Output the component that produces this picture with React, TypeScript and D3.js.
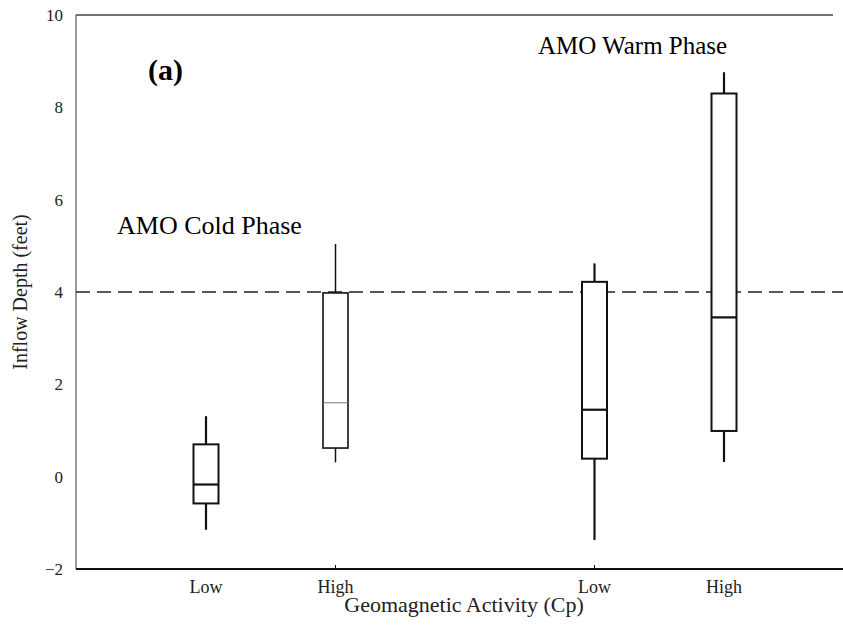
import React, { useEffect, useRef } from 'react'
import * as d3 from 'd3'

// box plot: inflow depth vs geomagnetic activity, by AMO phase
const groups = ['Low', 'High', 'Low', 'High']
const slots = [1, 2, 4, 5]
const whiskerLow = [-1.15, 0.31, -1.37, 0.32]
const q1 = [-0.58, 0.62, 0.39, 0.99]
const median = [-0.17, 1.6, 1.45, 3.45]
const q3 = [0.7, 3.98, 4.22, 8.3]
const whiskerHigh = [1.31, 5.04, 4.62, 8.76]
const yTicks = [-2, 0, 2, 4, 6, 8, 10]
const threshold = 4

const W = 843
const H = 626
const FONT = '"Liberation Serif", "DejaVu Serif", serif'

const App = () => {
  const ref = useRef<SVGSVGElement>(null)

  useEffect(() => {
    const svg = d3.select(ref.current)
    svg.selectAll('*').remove()

    const x = d3.scaleLinear().domain([1, 5]).range([206, 724])
    const y = d3.scaleLinear().domain([-2, 10]).range([569, 15])
    const left = 76
    const right = 833
    const boxW = 25

    // frame
    svg.append('line')
      .attr('x1', left).attr('x2', left)
      .attr('y1', y(10)).attr('y2', y(-2))
      .attr('stroke', '#777').attr('stroke-width', 1.5)
    svg.append('line')
      .attr('x1', left).attr('x2', right)
      .attr('y1', y(10)).attr('y2', y(10))
      .attr('stroke', '#444').attr('stroke-width', 1.5)
    svg.append('line')
      .attr('x1', left).attr('x2', W)
      .attr('y1', y(-2)).attr('y2', y(-2))
      .attr('stroke', '#111').attr('stroke-width', 2)

    // y tick labels
    svg.append('g')
      .selectAll('text')
      .data(yTicks)
      .join('text')
      .attr('x', 63)
      .attr('y', d => y(d) + 6)
      .attr('text-anchor', 'end')
      .attr('font-family', FONT)
      .attr('font-size', 17)
      .attr('fill', '#222')
      .text(d => d < 0 ? `\u2212${-d}` : `${d}`)

    // x ticks (only the middle two are drawn in the original)
    svg.append('g')
      .selectAll('line')
      .data([2, 4])
      .join('line')
      .attr('x1', d => x(d)).attr('x2', d => x(d))
      .attr('y1', y(-2)).attr('y2', y(-2) - 4)
      .attr('stroke', '#111').attr('stroke-width', 1)

    svg.append('g')
      .selectAll('text')
      .data(groups)
      .join('text')
      .attr('x', (d, i) => x(slots[i]))
      .attr('y', 593)
      .attr('text-anchor', 'middle')
      .attr('font-family', FONT)
      .attr('font-size', 18)
      .attr('fill', '#222')
      .text(d => d)

    // threshold
    svg.append('line')
      .attr('x1', left).attr('x2', W)
      .attr('y1', y(threshold)).attr('y2', y(threshold))
      .attr('stroke', '#222').attr('stroke-width', 1.5)
      .attr('stroke-dasharray', '14,7')

    // boxes
    const heavy = [true, false, true, true]
    const box = svg.append('g')
      .selectAll('g')
      .data(groups.map((g, i) => i))
      .join('g')
      .attr('fill', 'none')
      .attr('stroke', '#111')

    box.append('line')
      .attr('x1', i => x(slots[i])).attr('x2', i => x(slots[i]))
      .attr('y1', i => y(whiskerHigh[i])).attr('y2', i => y(q3[i]))
      .attr('stroke-width', i => heavy[i] ? 2.2 : 1.5)
    box.append('line')
      .attr('x1', i => x(slots[i])).attr('x2', i => x(slots[i]))
      .attr('y1', i => y(q1[i])).attr('y2', i => y(whiskerLow[i]))
      .attr('stroke-width', i => heavy[i] ? 2.2 : 1.5)
    box.append('rect')
      .attr('x', i => x(slots[i]) - boxW / 2)
      .attr('width', boxW)
      .attr('y', i => y(q3[i]))
      .attr('height', i => y(q1[i]) - y(q3[i]))
      .attr('fill', '#fff')
      .attr('stroke-width', i => heavy[i] ? 2 : 1.6)
    box.append('line')
      .attr('x1', i => x(slots[i]) - boxW / 2).attr('x2', i => x(slots[i]) + boxW / 2)
      .attr('y1', i => y(median[i])).attr('y2', i => y(median[i]))
      .attr('stroke', i => heavy[i] ? '#111' : '#777')
      .attr('stroke-width', i => heavy[i] ? 2.2 : 1)

    // annotations
    svg.append('text')
      .attr('x', 148).attr('y', 80)
      .attr('font-family', FONT).attr('font-size', 30).attr('font-weight', 'bold')
      .text('(a)')
    svg.append('text')
      .attr('x', 117).attr('y', 234)
      .attr('font-family', FONT).attr('font-size', 26)
      .text('AMO Cold Phase')
    svg.append('text')
      .attr('x', 538).attr('y', 54)
      .attr('font-family', FONT).attr('font-size', 25)
      .text('AMO Warm Phase')

    // axis titles
    svg.append('text')
      .attr('transform', `translate(27,${y(4)}) rotate(-90)`)
      .attr('text-anchor', 'middle')
      .attr('font-family', FONT).attr('font-size', 20)
      .attr('fill', '#222')
      .text('Inflow  Depth (feet)')
    svg.append('text')
      .attr('x', 464).attr('y', 612)
      .attr('text-anchor', 'middle')
      .attr('font-family', FONT).attr('font-size', 22)
      .attr('fill', '#222')
      .text('Geomagnetic Activity (Cp)')
  }, [])

  return <svg ref={ref} width={W} height={H}
    style={{ position: 'absolute', left: 0, top: 0, background: '#fff' }} />
}

export default App
